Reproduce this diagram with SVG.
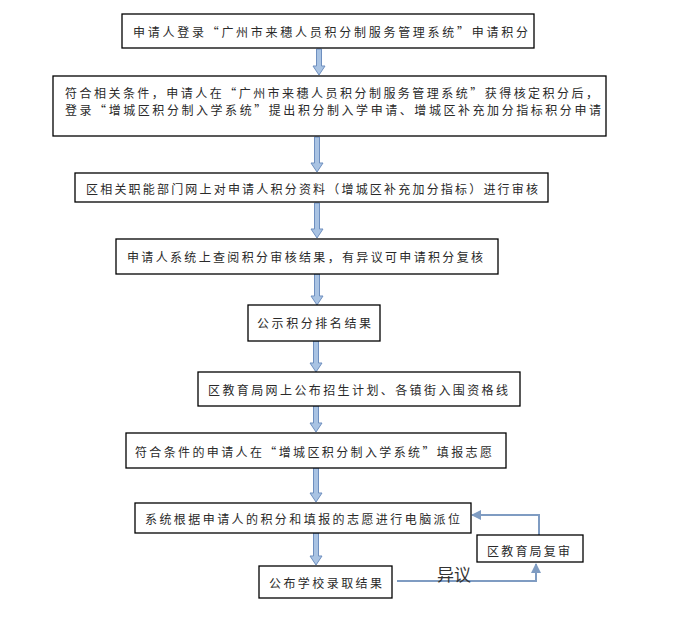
<svg xmlns="http://www.w3.org/2000/svg" width="675" height="639" viewBox="0 0 675 639">
<style>
.box{fill:#fff;stroke:#000;stroke-width:1.3}
.t{font-family:"Noto Sans CJK SC","Liberation Sans",sans-serif;font-size:12px;fill:#2a2a2a;dominant-baseline:central}
.flow{fill:#a9c3e3;stroke:#6e8fbf;stroke-width:1}
.link{fill:none;stroke:#7f9cc2;stroke-width:2;marker-end:url(#ah)}
.lbl{font-family:"Noto Sans CJK SC","Liberation Sans",sans-serif;font-size:17px;fill:#333;dominant-baseline:central}
</style>
<defs>
<marker id="ah" viewBox="0 0 10 10" refX="9" refY="5" markerWidth="5" markerHeight="5" orient="auto" markerUnits="strokeWidth">
<path d="M0,0 L10,5 L0,10 z" fill="#7f9cc2"/>
</marker>
</defs>
<rect width="675" height="639" fill="#fff"/>
<g id="connectors">
<path class="flow" d="M316.5,49 h5 v17 h3.5 l-6,9 l-6,-9 h3.5 z"/>
<path class="flow" d="M314.5,137 h5 v26 h3.5 l-6,9 l-6,-9 h3.5 z"/>
<path class="flow" d="M314.5,203 h5 v26 h3.5 l-6,9 l-6,-9 h3.5 z"/>
<path class="flow" d="M314.5,274 h5 v22 h3.5 l-6,9 l-6,-9 h3.5 z"/>
<path class="flow" d="M313.5,341 h5 v22 h3.5 l-6,9 l-6,-9 h3.5 z"/>
<path class="flow" d="M313.5,406 h5 v17 h3.5 l-6,9 l-6,-9 h3.5 z"/>
<path class="flow" d="M313.5,468 h5 v25 h3.5 l-6,9 l-6,-9 h3.5 z"/>
<path class="flow" d="M313.5,533 h5 v23 h3.5 l-6,9 l-6,-9 h3.5 z"/>
<path class="link" d="M397,581 H536 V564"/>
<path class="link" d="M539,535 V515 H472"/>
<text class="lbl" x="437" y="573" textLength="34" lengthAdjust="spacing">异议</text>
</g>
<g id="n1"><rect class="box" x="122" y="14" width="412" height="34"/>
<text class="t" x="133" y="31" textLength="395" lengthAdjust="spacing">申请人登录“广州市来穗人员积分制服务管理系统”申请积分</text></g>
<g id="n2"><rect class="box" x="53" y="76" width="553" height="60"/>
<text class="t" x="65" y="92" textLength="533" lengthAdjust="spacing">符合相关条件，申请人在“广州市来穗人员积分制服务管理系统”获得核定积分后，</text>
<text class="t" x="65" y="109" textLength="536" lengthAdjust="spacing">登录“增城区积分制入学系统”提出积分制入学申请、增城区补充加分指标积分申请</text></g>
<g id="n3"><rect class="box" x="75" y="173" width="473" height="29"/>
<text class="t" x="86" y="188" textLength="452" lengthAdjust="spacing">区相关职能部门网上对申请人积分资料（增城区补充加分指标）进行审核</text></g>
<g id="n4"><rect class="box" x="116" y="239" width="382" height="35"/>
<text class="t" x="127" y="256" textLength="356" lengthAdjust="spacing">申请人系统上查阅积分审核结果，有异议可申请积分复核</text></g>
<g id="n5"><rect class="box" x="248" y="305" width="132" height="36"/>
<text class="t" x="257" y="322" textLength="114" lengthAdjust="spacing">公示积分排名结果</text></g>
<g id="n6"><rect class="box" x="198" y="372" width="322" height="34"/>
<text class="t" x="208" y="389" textLength="300" lengthAdjust="spacing">区教育局网上公布招生计划、各镇街入围资格线</text></g>
<g id="n7"><rect class="box" x="126" y="433" width="380" height="35"/>
<text class="t" x="135" y="451" textLength="357" lengthAdjust="spacing">符合条件的申请人在“增城区积分制入学系统”填报志愿</text></g>
<g id="n8"><rect class="box" x="135" y="503" width="336" height="30"/>
<text class="t" x="145" y="518" textLength="315" lengthAdjust="spacing">系统根据申请人的积分和填报的志愿进行电脑派位</text></g>
<g id="n9"><rect class="box" x="477" y="535" width="106" height="27"/>
<text class="t" x="487" y="550" textLength="83" lengthAdjust="spacing">区教育局复审</text></g>
<g id="n10"><rect class="box" x="259" y="566" width="133" height="32"/>
<text class="t" x="269" y="582" textLength="113" lengthAdjust="spacing">公布学校录取结果</text></g>
</svg>
